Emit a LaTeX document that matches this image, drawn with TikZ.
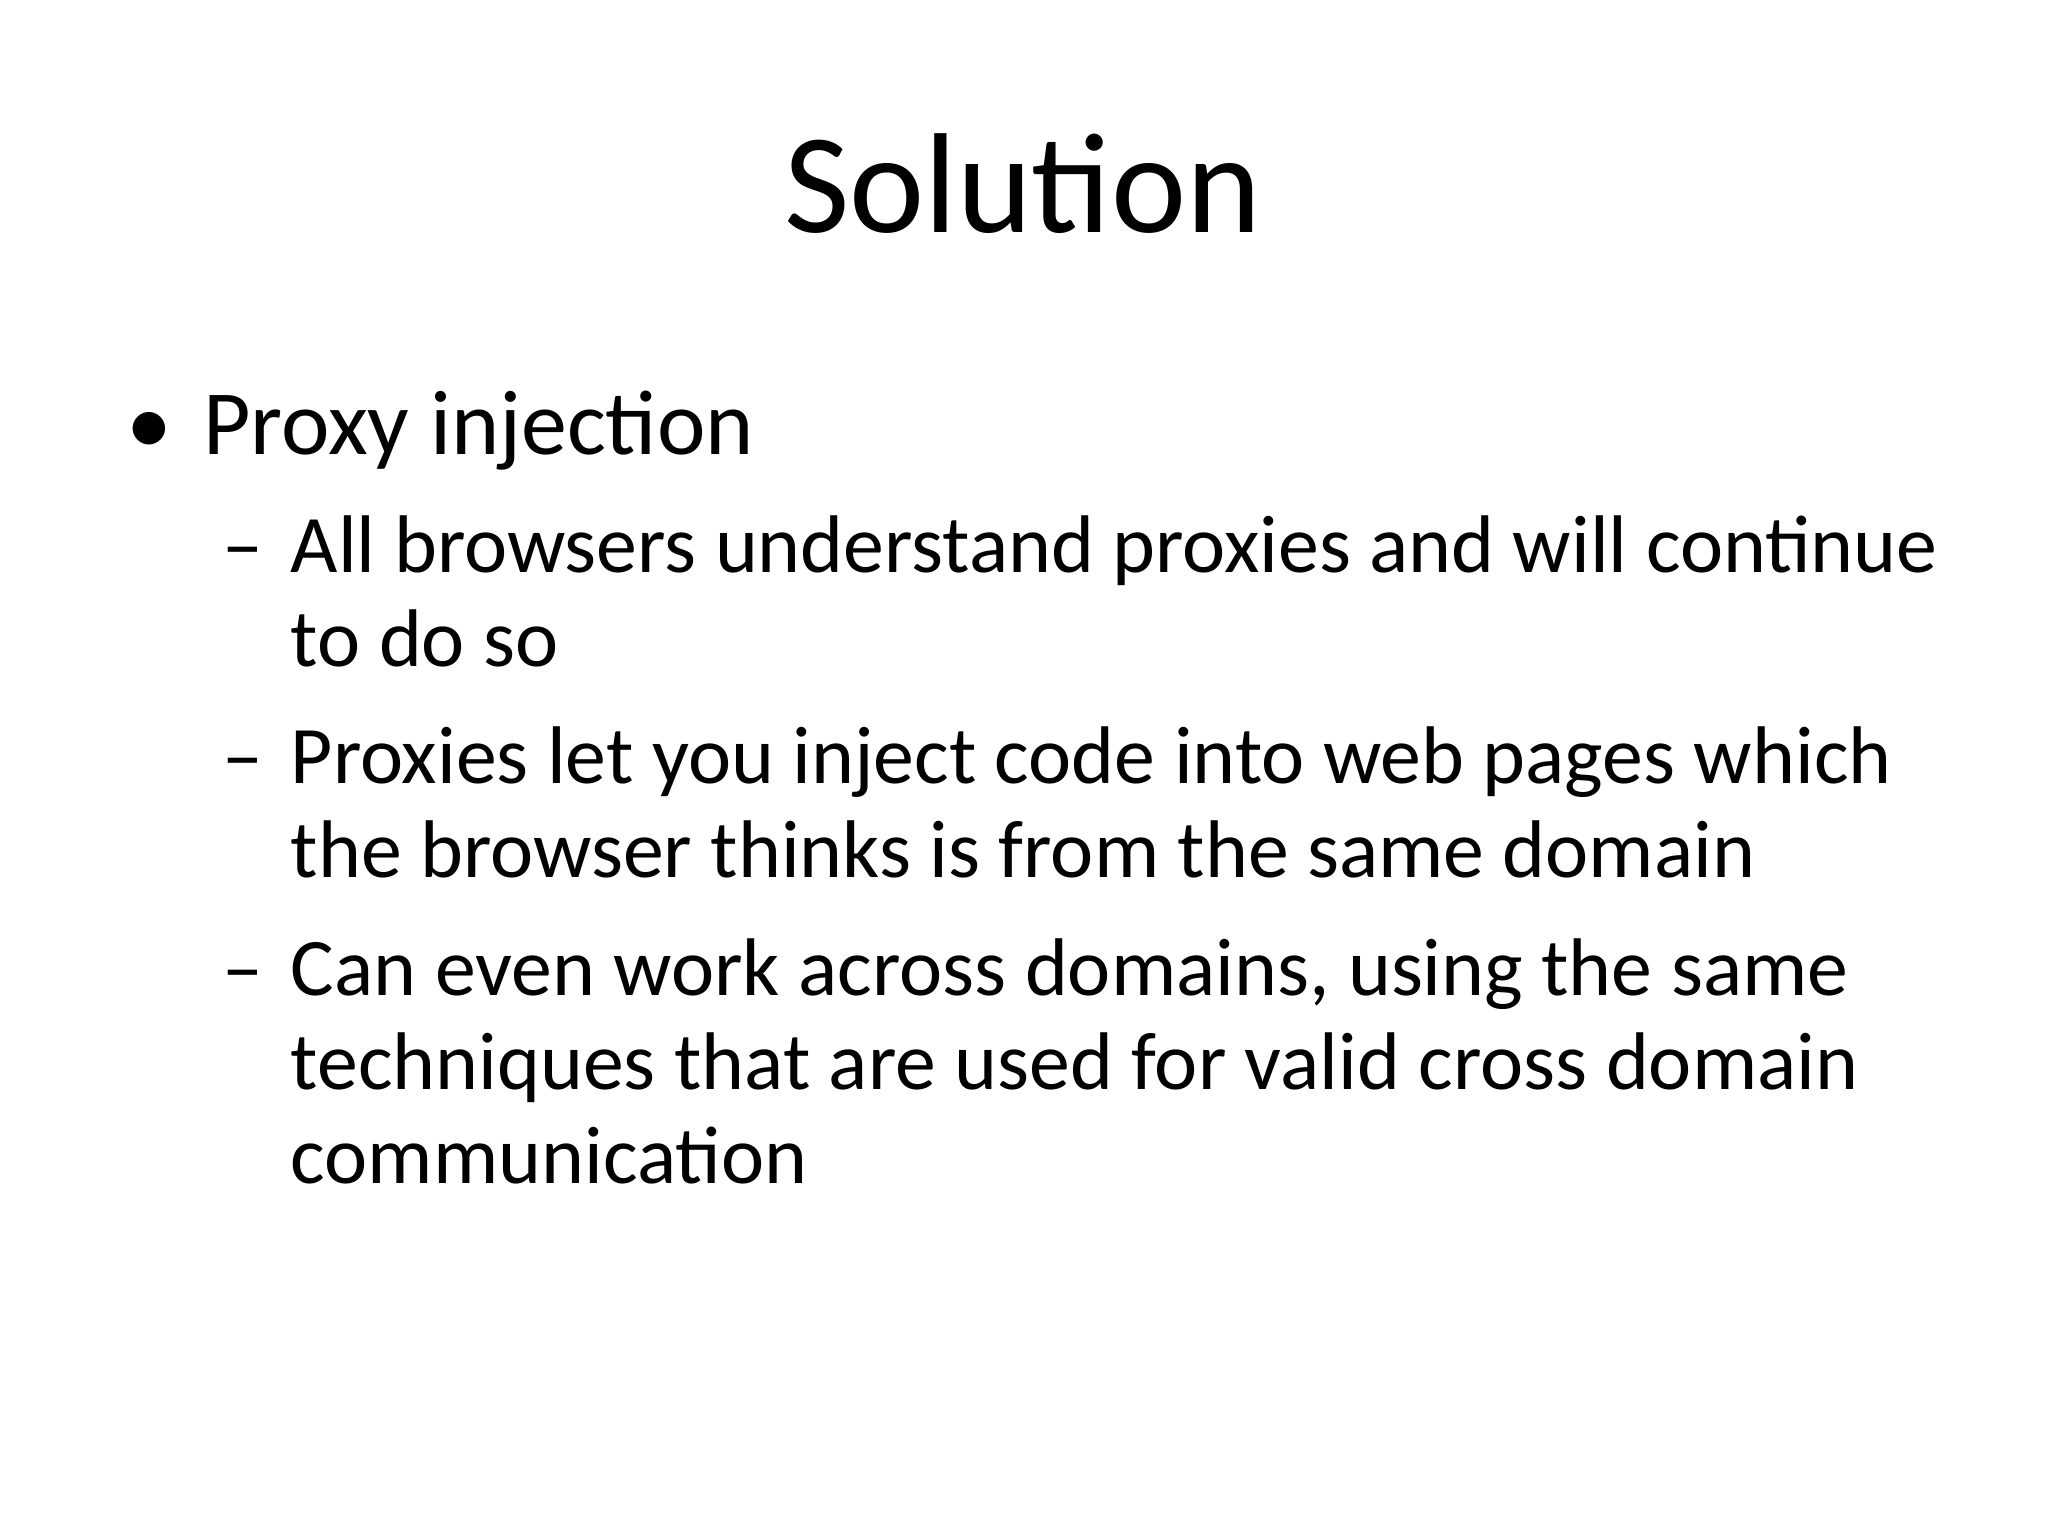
\documentclass[tikz,border=0pt]{standalone}
\usepackage{fontspec}
\setmainfont{Carlito}
\begin{document}
\begin{tikzpicture}[x=0.01cm,y=-0.01cm,
  ln/.style={anchor=base west,inner sep=0pt,font=\fontsize{17.8pt}{20pt}\selectfont}]
\useasboundingbox[fill=white] (0,0) rectangle (1568,1176);
\node[anchor=base,inner sep=0pt,font=\fontsize{31pt}{36pt}\selectfont] (title) at (783,178) {Solution};
\node[anchor=base west,inner sep=0pt,font=\fontsize{20pt}{24pt}\selectfont] (b1) at (96,348) {\textbullet};
\node[anchor=base west,inner sep=0pt,font=\fontsize{20pt}{24pt}\selectfont] (p1) at (155,348) {Proxy injection};
\node[ln] (d1) at (170,438) {–};
\node[ln] (l1) at (222,438) {All browsers understand proxies and will continue};
\node[ln] (l2) at (222,510) {to do so};
\node[ln] (d2) at (170,600) {–};
\node[ln] (l3) at (222,600) {Proxies let you inject code into web pages which};
\node[ln] (l4) at (222,672) {the browser thinks is from the same domain};
\node[ln] (d3) at (170,762) {–};
\node[ln] (l5) at (222,762) {Can even work across domains, using the same};
\node[ln] (l6) at (222,834) {techniques that are used for valid cross domain};
\node[ln] (l7) at (222,906) {communication};
\end{tikzpicture}
\end{document}
